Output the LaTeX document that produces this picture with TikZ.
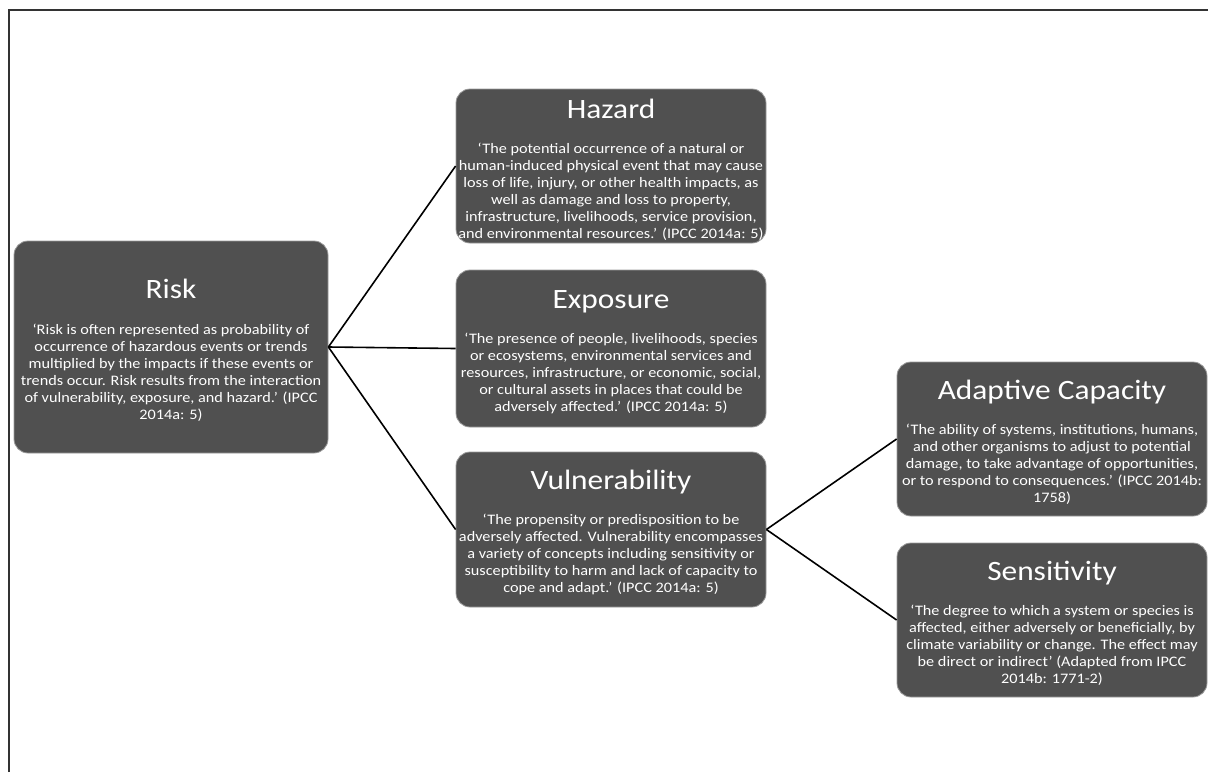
\documentclass[tikz,border=0pt]{standalone}
\usepackage{fontspec}
\setmainfont{Carlito}[FakeStretch=1.12]
\definecolor{boxfill}{HTML}{505050}
\definecolor{boxedge}{HTML}{9A9A9A}
\newcommand{\titlef}{\fontsize{28}{34}\selectfont\rule{0pt}{26pt}}
\newcommand{\bodyf}{\fontsize{14.5}{17}\selectfont}
\tikzset{
  box/.style={draw=boxedge, line width=0.8pt, fill=boxfill, rounded corners=14pt,
    text=white, align=center, inner sep=0pt, font=\bodyf},
  link/.style={draw=black, line width=1.6pt},
  frame/.style={draw=black!80, line width=2pt}
}
\begin{document}
\begin{tikzpicture}[x=1pt,y=-1pt]
\useasboundingbox (0,0) rectangle (1208,772);
\draw[frame] (9,772) -- (9,10) -- (1208,10);

\node[box, minimum width=314pt, minimum height=212pt] (risk) at (171,347)
 {{\titlef Risk}\\[19pt]
 ‘Risk is often represented as probability of\\
 occurrence of hazardous events or trends\\
 multiplied by the impacts if these events or\\
 trends occur. Risk results from the interaction\\
 of vulnerability, exposure, and hazard.’ (IPCC\\
 2014a: 5)};

\node[box, minimum width=310pt, minimum height=154pt] (hazard) at (611,166)
 {{\titlef Hazard}\\[18pt]
 ‘The potential occurrence of a natural or\\
 human-induced physical event that may cause\\
 loss of life, injury, or other health impacts, as\\
 well as damage and loss to property,\\
 infrastructure, livelihoods, service provision,\\
 and environmental resources.’ (IPCC 2014a: 5)};

\node[box, minimum width=310pt, minimum height=157pt] (exposure) at (611,348.5)
 {{\titlef Exposure}\\[18pt]
 ‘The presence of people, livelihoods, species\\
 or ecosystems, environmental services and\\
 resources, infrastructure, or economic, social,\\
 or cultural assets in places that could be\\
 adversely affected.’ (IPCC 2014a: 5)};

\node[box, minimum width=310pt, minimum height=155pt] (vuln) at (611,529.5)
 {{\titlef Vulnerability}\\[18pt]
 ‘The propensity or predisposition to be\\
 adversely affected. Vulnerability encompasses\\
 a variety of concepts including sensitivity or\\
 susceptibility to harm and lack of capacity to\\
 cope and adapt.’ (IPCC 2014a: 5)};

\node[box, minimum width=310pt, minimum height=154pt] (adapt) at (1052,439)
 {{\titlef Adaptive Capacity}\\[18pt]
 ‘The ability of systems, institutions, humans,\\
 and other organisms to adjust to potential\\
 damage, to take advantage of opportunities,\\
 or to respond to consequences.’ (IPCC 2014b:\\
 1758)};

\node[box, minimum width=310pt, minimum height=154pt] (sens) at (1052,620)
 {{\titlef Sensitivity}\\[18pt]
 ‘The degree to which a system or species is\\
 affected, either adversely or beneficially, by\\
 climate variability or change. The effect may\\
 be direct or indirect’ (Adapted from IPCC\\
 2014b: 1771-2)};

\draw[link] (risk.east) -- (hazard.west);
\draw[link] (risk.east) -- (exposure.west);
\draw[link] (risk.east) -- (vuln.west);
\draw[link] (vuln.east) -- (adapt.west);
\draw[link] (vuln.east) -- (sens.west);
\end{tikzpicture}
\end{document}
